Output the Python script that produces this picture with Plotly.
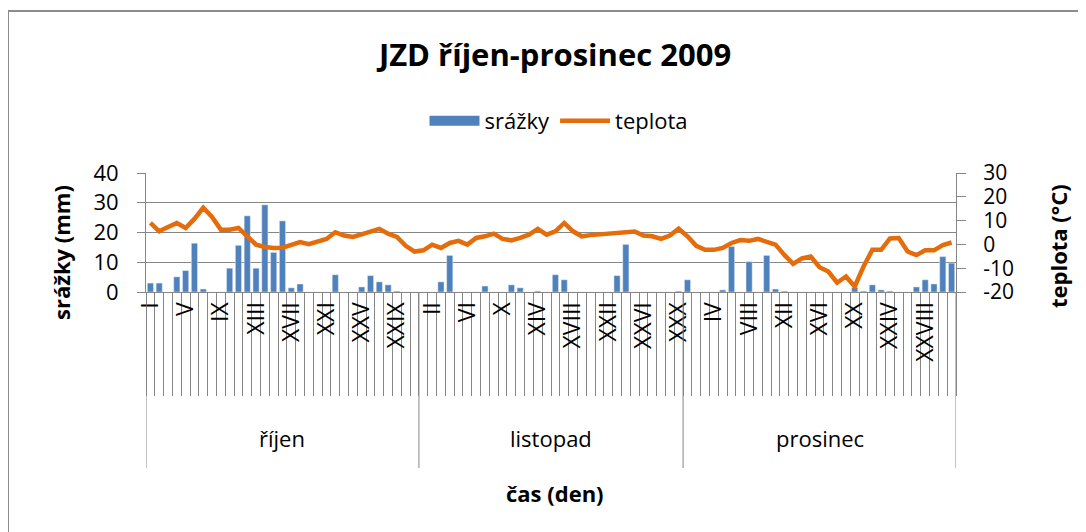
import plotly.graph_objects as go

# ---- data ----
month_names = ["říjen", "listopad", "prosinec"]
month_days = [31, 30, 31]

srazky = [
    # říjen
    3.0, 3.0, 0, 5.1, 7.2, 16.4, 1.0, 0, 0, 8.0, 15.7, 25.6, 8.0, 29.3, 13.3, 23.9,
    1.4, 2.7, 0, 0, 0, 5.8, 0, 0, 1.7, 5.5, 3.4, 2.4, 0.3, 0, 0,
    # listopad
    0, 0, 3.4, 12.3, 0, 0, 0, 2.0, 0, 0, 2.4, 1.4, 0, 0.3, 0, 5.8, 4.1, 0, 0, 0,
    0, 0, 5.5, 16.0, 0, 0, 0, 0, 0, 0.3,
    # prosinec
    4.1, 0, 0, 0, 0.7, 15.3, 0, 10.2, 0, 12.3, 1.0, 0.3, 0, 0, 0, 0, 0, 0, 0, 1.5,
    0.3, 2.4, 0.7, 0.3, 0, 0, 1.7, 4.1, 2.7, 11.9, 9.7,
]

teplota = [
    # říjen
    9.0, 5.5, 7.3, 9.0, 6.9, 10.7, 15.4, 11.5, 6.2, 6.2, 6.9, 3.7, -0.1, -1.1, -1.5, -1.4,
    0.0, 1.0, 0.1, 1.1, 2.3, 5.1, 3.7, 3.1, 4.5, 5.4, 6.5, 4.5, 3.1, -0.6, -3.0,
    # listopad
    -2.5, -0.1, -1.5, 0.6, 1.5, -0.1, 2.7, 3.4, 4.5, 2.3, 1.7, 2.7, 4.1, 6.5, 4.1, 5.5,
    9.0, 5.5, 3.4, 3.9, 4.2, 4.2, 4.9, 4.9, 5.4, 3.7, 3.4, 2.3, 3.7, 6.6,
    # prosinec
    3.4, -0.6, -2.3, -2.3, -1.5, 0.6, 1.8, 1.5, 2.3, 1.1, -0.1, -4.4, -8.2, -5.9, -5.1,
    -9.6, -11.4, -16.1, -13.5, -17.7, -9.3, -2.3, -2.3, 2.5, 2.7, -3.0, -4.5, -2.5, -2.5,
    -0.3, 0.8,
]

day_labels = ["I", "V", "IX", "XIII", "XVII", "XXI", "XXV", "XXIX",
              "II", "VI", "X", "XIV", "XVIII", "XXII", "XXVI", "XXX",
              "IV", "VIII", "XII", "XVI", "XX", "XXIV", "XXVIII"]

y2_tickvals = [-20, -10, 0, 10, 20, 30]
y2_ticktext = ["-20", "-10", "0", "10", "20", "30"]

# categories (one per day)
cats = []
for m, (name, n) in enumerate(zip(month_names, month_days)):
    for d in range(1, n + 1):
        cats.append(f"{d}.{m + 10}.")

ticktext = []
k = 0
for i in range(len(cats)):
    if i % 4 == 0:
        ticktext.append(day_labels[k])
        k += 1
    else:
        ticktext.append("")

FONT = "Open Sans, Lato, sans-serif"
GRAY = "#868686"
BLUE = "#4F81BD"
ORANGE = "#E46C0A"
OFF = 8                      # page body margin
W, H = 1086 - OFF, 532 - OFF
L, R, T, B = 146 - OFF, 130, 173 - OFF, 240
pw, ph = W - L - R, H - T - B


def px2x(px):
    return (px - OFF - L) / pw


def py2y(py):
    return (H - B - (py - OFF)) / ph


fig = go.Figure()
fig.add_bar(x=cats, y=srazky, name="srážky", marker_color=BLUE, yaxis="y",
            showlegend=False)
# legend key for the bars (wide block like the original)
fig.add_scatter(x=[None], y=[None], name="srážky", mode="lines",
                line=dict(color=BLUE, width=13), yaxis="y")
fig.add_scatter(x=cats, y=teplota, name="teplota", mode="lines",
                line=dict(color=ORANGE, width=4.5), yaxis="y2")

# month boundaries and labels
bounds = [-0.5]
for n in month_days:
    bounds.append(bounds[-1] + n)
shapes = []
annotations = []
for j, name in enumerate(month_names):
    annotations.append(dict(x=(bounds[j] + bounds[j + 1]) / 2, xref="x",
                            y=py2y(438), yref="paper", text=name, showarrow=False,
                            xanchor="center", yanchor="middle",
                            font=dict(size=22, color="#000", family=FONT)))
for b in bounds:
    shapes.append(dict(type="line", xref="x", yref="paper", x0=b, x1=b,
                       y0=0, y1=py2y(468), line=dict(color=GRAY, width=1)))

# outer border
shapes.append(dict(type="rect", xref="paper", yref="paper",
                   x0=px2x(8), x1=px2x(1100), y0=py2y(545), y1=py2y(11),
                   line=dict(color="#8C8C8C", width=2)))

annotations += [
    dict(x=px2x(555), y=py2y(493), xref="paper", yref="paper", text="<b>čas (den)</b>",
         showarrow=False, xanchor="center", yanchor="middle",
         font=dict(size=22, family=FONT, color="#000")),
    dict(x=px2x(61), y=py2y(253), xref="paper", yref="paper", text="<b>srážky (mm)</b>",
         showarrow=False, textangle=-90, xanchor="center", yanchor="middle",
         font=dict(size=22, family=FONT, color="#000")),
    dict(x=px2x(1058), y=py2y(246), xref="paper", yref="paper", text="<b>teplota (°C)</b>",
         showarrow=False, textangle=-90, xanchor="center", yanchor="middle",
         font=dict(size=22, family=FONT, color="#000")),
]

fig.update_layout(
    width=W, height=H,
    margin=dict(l=L, r=R, t=T, b=B, autoexpand=False),
    paper_bgcolor="white", plot_bgcolor="white",
    font=dict(family=FONT, color="#000"),
    title=dict(text="<b>JZD říjen-prosinec 2009</b>", x=(555 - OFF) / W, xanchor="center",
               y=1 - (55 - OFF) / H, yanchor="middle",
               font=dict(size=31, family=FONT, color="#000")),
    showlegend=True,
    legend=dict(orientation="h", x=px2x(559), xanchor="center", y=py2y(121),
                yanchor="middle", font=dict(size=22, family=FONT), itemwidth=50,
                bgcolor="rgba(0,0,0,0)"),
    bargap=0.3,
    xaxis=dict(type="category", tickmode="array", tickvals=cats, ticktext=ticktext,
               tickson="boundaries", ticks="outside", ticklen=103, tickcolor=GRAY,
               tickwidth=1, showline=True, linecolor=GRAY, linewidth=1,
               tickangle=-90, ticklabelstandoff=0, showgrid=False,
               tickfont=dict(size=23, family=FONT, color="#000"),
               range=[-0.5, len(cats) - 0.5]),
    yaxis=dict(range=[0, 40], dtick=10, showgrid=True, gridcolor=GRAY, gridwidth=1,
               ticks="outside", ticklen=8, tickcolor=GRAY, showline=True, linecolor=GRAY,
               zeroline=False, ticklabelstandoff=14,
               tickfont=dict(size=22, family=FONT, color="#000")),
    yaxis2=dict(overlaying="y", side="right", range=[-20, 30], tickmode="array",
                tickvals=y2_tickvals, ticktext=y2_ticktext, showgrid=False,
                ticks="outside", ticklen=9, tickcolor=GRAY, showline=True, linecolor=GRAY,
                zeroline=False, ticklabelstandoff=13,
                tickfont=dict(size=21, family=FONT, color="#000")),
    shapes=shapes,
    annotations=annotations,
)

fig.write_html("out.html")
